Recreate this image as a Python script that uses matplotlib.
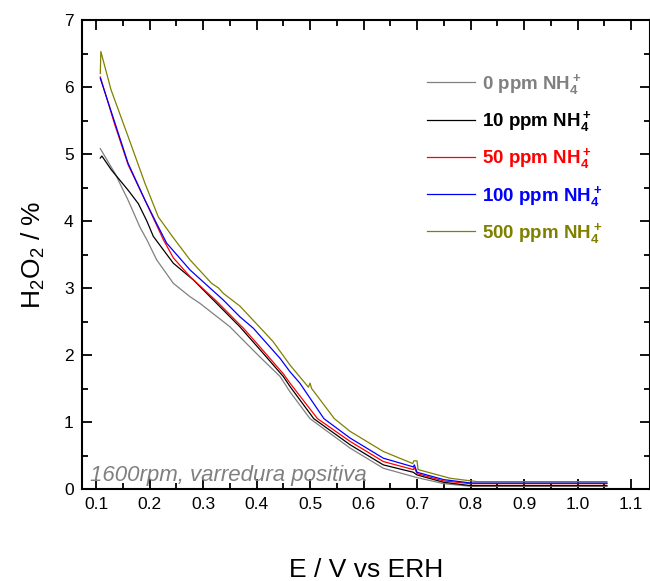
import matplotlib
matplotlib.use("Agg")
import matplotlib.pyplot as plt
from matplotlib.ticker import MultipleLocator

plt.rcParams['font.family'] = ['Liberation Sans', 'DejaVu Sans']
plt.rcParams['mathtext.default'] = 'regular'

# ---- data ----
x_0 = [0.108, 0.1355, 0.16, 0.182, 0.195, 0.2134, 0.2445, 0.2757, 0.2944, 0.3505, 0.369,
       0.4065, 0.444, 0.4626, 0.50, 0.575, 0.637, 0.70, 0.75, 0.80, 0.90, 1.0, 1.055]
y_0 = [5.08, 4.71, 4.31, 3.91, 3.72, 3.42, 3.07, 2.87, 2.77, 2.42, 2.27,
       1.97, 1.68, 1.45, 1.05, 0.61, 0.31, 0.17, 0.08, 0.04, 0.04, 0.04, 0.04]

x_10 = [0.108, 0.111, 0.129, 0.16, 0.179, 0.195, 0.2071, 0.2445, 0.282, 0.3256, 0.369,
        0.4065, 0.45, 0.4626, 0.507, 0.575, 0.637, 0.693, 0.70, 0.75, 0.80, 0.90, 1.0, 1.055]
y_10 = [4.94, 4.97, 4.76, 4.46, 4.26, 4.00, 3.77, 3.37, 3.12, 2.77, 2.42,
        2.08, 1.68, 1.53, 1.05, 0.66, 0.36, 0.25, 0.21, 0.10, 0.05, 0.05, 0.05, 0.05]

x_50 = [0.108, 0.135, 0.16, 0.1916, 0.226, 0.2445, 0.2757, 0.3256, 0.369, 0.3755, 0.4065,
        0.45, 0.4626, 0.514, 0.575, 0.637, 0.693, 0.695, 0.70, 0.75, 0.80, 0.90, 1.0, 1.055]
y_50 = [6.15, 5.44, 4.84, 4.31, 3.72, 3.45, 3.17, 2.80, 2.45, 2.40, 2.12,
        1.72, 1.58, 1.05, 0.71, 0.41, 0.29, 0.32, 0.23, 0.12, 0.08, 0.08, 0.08, 0.08]

x_100 = [0.108, 0.1355, 0.16, 0.1916, 0.2134, 0.232, 0.2757, 0.338, 0.369, 0.394, 0.444,
         0.4626, 0.481, 0.526, 0.575, 0.637, 0.693, 0.695, 0.70, 0.75, 0.80, 0.90, 1.0, 1.055]
y_100 = [6.13, 5.46, 4.86, 4.31, 3.96, 3.67, 3.27, 2.82, 2.57, 2.40, 1.95,
         1.75, 1.58, 1.05, 0.76, 0.46, 0.33, 0.36, 0.25, 0.14, 0.09, 0.09, 0.09, 0.09]

x_500 = [0.108, 0.109, 0.128, 0.16, 0.1916, 0.2165, 0.2445, 0.2757, 0.316, 0.329, 0.338,
         0.369, 0.4065, 0.431, 0.4626, 0.497, 0.500, 0.503, 0.5455, 0.575, 0.637, 0.692,
         0.694, 0.700, 0.702, 0.762, 0.812, 0.90, 1.0, 1.055]
y_500 = [6.20, 6.53, 5.96, 5.26, 4.56, 4.06, 3.75, 3.42, 3.07, 3.00, 2.92,
         2.73, 2.41, 2.20, 1.85, 1.52, 1.58, 1.50, 1.05, 0.86, 0.56, 0.38,
         0.42, 0.42, 0.29, 0.16, 0.11, 0.11, 0.11, 0.11]

labels = [r'0 ppm NH$_4^+$', r'10 ppm NH$_4^+$', r'50 ppm NH$_4^+$',
          r'100 ppm NH$_4^+$', r'500 ppm NH$_4^+$']
colors = ['#808080', '#000000', '#ff0000', '#0000ff', '#808000']

xs = [x_0, x_10, x_50, x_100, x_500]
ys = [y_0, y_10, y_50, y_100, y_500]

fig = plt.figure(figsize=(6.5, 5.81), dpi=100)
ax = fig.add_axes([82/650, 1 - 489/581, 1 - 82/650, (489 - 20)/581])

for x, y, c, lab in zip(xs, ys, colors, labels):
    ax.plot(x, y, color=c, lw=0.9, label=lab)

ax.set_xlim(0.0738, 1.1355)
ax.set_ylim(0, 7)
ax.xaxis.set_minor_locator(MultipleLocator(0.05))
ax.yaxis.set_major_locator(MultipleLocator(1))
ax.yaxis.set_minor_locator(MultipleLocator(0.5))
ax.set_xticks([0.1, 0.2, 0.3, 0.4, 0.5, 0.6, 0.7, 0.8, 0.9, 1.0, 1.1])
ax.set_xticklabels(['0.1', '0.2', '0.3', '0.4', '0.5', '0.6', '0.7', '0.8', '0.9', '1.0', '1.1'])
ax.tick_params(which='both', direction='in', top=True, right=True, labelsize=12.5, width=1.3)
ax.tick_params(which='major', length=7, pad=6)
ax.tick_params(which='minor', length=4)
for s in ax.spines.values():
    s.set_linewidth(1.5)

ax.set_xlabel('E / V vs ERH', fontsize=19, labelpad=33)
ax.set_ylabel(r'H$_2$O$_2$ / %', fontsize=19, labelpad=12)

leg = ax.legend(loc='upper left', bbox_to_anchor=(0.578, 0.925), frameon=False,
                handlelength=2.55, handletextpad=0.37, labelspacing=0.65,
                prop={'weight': 'bold', 'size': 13.5})
for t, c in zip(leg.get_texts(), colors):
    t.set_color(c)

ax.text(0.088, 0.12, '1600rpm, varredura positiva', fontsize=16, style='italic',
        color='#808080', transform=ax.transData)

fig.savefig('out.png', dpi=100)
